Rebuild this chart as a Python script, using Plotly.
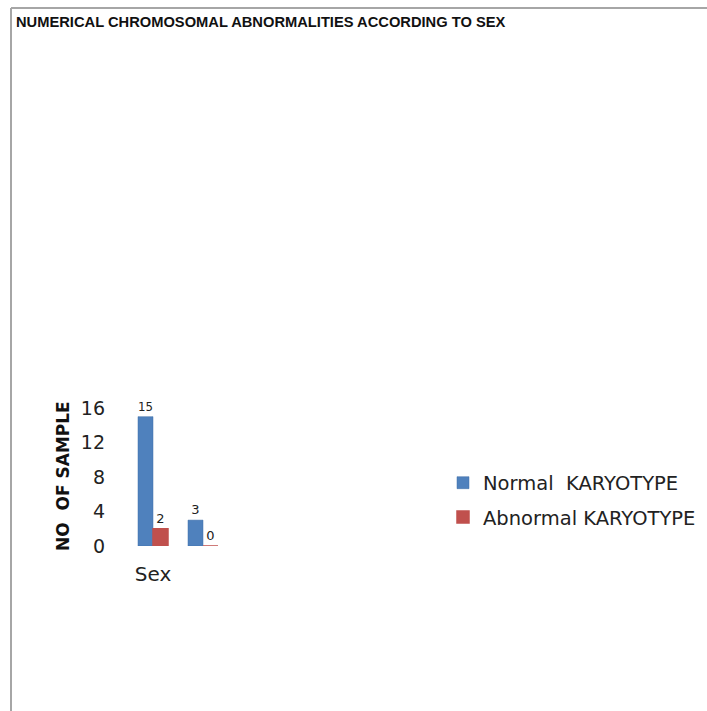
import plotly.graph_objects as go

categories = ["Sex", ""]
normal_values = [15, 3]
abnormal_values = [2, 0]
series_names = ["Normal  KARYOTYPE", "Abnormal KARYOTYPE"]
y_ticks = [0, 4, 8, 12, 16]
title_text = "NUMERICAL CHROMOSOMAL ABNORMALITIES ACCORDING TO SEX"
y_title = "NO  OF SAMPLE"

W, H = 707, 711
x_pos = list(range(len(categories)))

fig = go.Figure()
fig.add_trace(go.Bar(
    x=x_pos, y=normal_values, name=series_names[0], legendgroup="a",
    marker=dict(color="#4F81BD", line=dict(color="#3F6FA8", width=0.5)),
    text=[str(v) for v in normal_values], textposition="outside",
    textfont=dict(family="DejaVu Sans", size=13, color="#222"),
    cliponaxis=False,
))
fig.add_trace(go.Bar(
    x=x_pos, y=abnormal_values, name=series_names[1], legendgroup="b",
    marker=dict(color="#C0504D", line=dict(color="#C0504D", width=1.5)),
    text=[str(v) for v in abnormal_values], textposition="outside",
    textfont=dict(family="DejaVu Sans", size=13, color="#222"),
    cliponaxis=False,
))

fig.update_layout(
    width=W, height=H,
    margin=dict(l=0, r=0, t=0, b=0),
    paper_bgcolor="white", plot_bgcolor="white",
    barmode="group", bargap=0.4, bargroupgap=0,
    showlegend=True,
    legend=dict(x=443 / W, y=1 - 500 / H, xanchor="left", yanchor="middle",
                font=dict(family="DejaVu Sans", size=19.5, color="#222"),
                traceorder="grouped", tracegroupgap=6,
                bgcolor="rgba(0,0,0,0)"),
    font=dict(family="DejaVu Sans", color="#222"),
    xaxis=dict(domain=[128 / W, 228 / W], range=[-0.5, 1.5],
               tickmode="array", tickvals=x_pos, ticktext=categories,
               showgrid=False, zeroline=False, showline=False, ticks="",
               tickfont=dict(size=20, color="#222"), automargin=False,
               ticklabelstandoff=14),
    yaxis=dict(domain=[1 - 546 / H, 1 - 408 / H], range=[0, 16],
               tickmode="array", tickvals=y_ticks,
               showgrid=False, zeroline=False, showline=False, ticks="",
               tickfont=dict(size=19, color="#222"), automargin=False,
               ticklabelstandoff=22),
    annotations=[
        dict(text=title_text, xref="paper", yref="paper",
             x=14 / W, y=1 - 22 / H, xanchor="left", yanchor="middle",
             showarrow=False,
             font=dict(family="Liberation Sans Narrow, Liberation Sans, Arial", size=14.7, color="#111", weight="bold")),
        dict(text=y_title, xref="paper", yref="paper",
             x=63 / W, y=1 - 476 / H, xanchor="center", yanchor="middle",
             showarrow=False, textangle=-90,
             font=dict(family="DejaVu Sans", size=17, color="#111", weight="bold")),
    ],
    shapes=[
        dict(type="line", xref="paper", yref="paper", x0=11 / W, x1=11 / W,
             y0=1 - 8 / H, y1=-0.01, line=dict(color="#A6A6A6", width=2)),
        dict(type="line", xref="paper", yref="paper", x0=11 / W, x1=1.01,
             y0=1 - 8 / H, y1=1 - 8 / H, line=dict(color="#A6A6A6", width=2)),
    ],
)

fig.write_html("out.html", config={"displayModeBar": False},
               post_script="document.body.style.margin='0';")
